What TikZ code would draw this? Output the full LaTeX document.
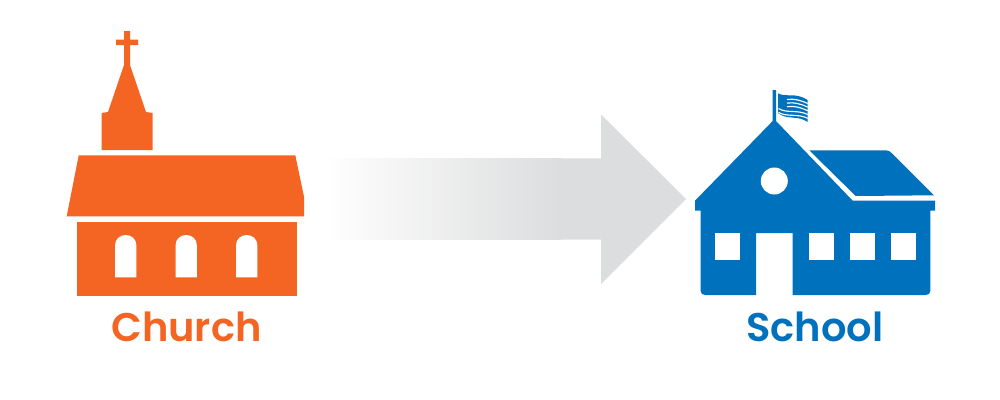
\documentclass[tikz,border=0pt]{standalone}
\usepackage{fontspec}
\setmainfont{Poppins}[UprightFont=* SemiBold]
\definecolor{churchorange}{HTML}{F46524}
\definecolor{schoolblue}{HTML}{0071BC}
\definecolor{arrowgray}{HTML}{DCDDDE}
\tikzset{
  churchshape/.style={fill=churchorange},
  schoolshape/.style={fill=schoolblue},
  hole/.style={fill=white},
  flagstripe/.style={draw=white,line width=0.85pt},
  caption/.style={anchor=base,inner sep=0pt,font=\fontsize{30}{32}\selectfont}
}
\begin{document}
\begin{tikzpicture}[x=0.75pt,y=0.75pt,yscale=-1,xscale=1]
\useasboundingbox (0,0) rectangle (1000,400);
% arrow
\fill [left color=arrowgray!3,right color=arrowgray] (330,158.3) rectangle (561,239.7);
\fill [arrowgray] (560,158.3) -- (601,158.3) -- (601,114.5) -- (686,199) -- (601,284) -- (601,239.7) -- (560,239.7) -- cycle;
% church
\fill [churchshape] (124,31) -- (130,31) -- (130,39.5) -- (138,39.5) -- (138,45) -- (130,45) -- (130,65) -- (146,112) -- (152.7,113) -- (152.7,150) -- (101.5,150) -- (101.5,113) -- (108,112) -- (124,65) -- (124,45) -- (116,45) -- (116,39.5) -- (124,39.5) -- cycle;
\fill [churchshape] (78.7,155.3) -- (295.3,155.3) -- (304,196.7) -- (304,216.3) -- (66.7,216.3) -- cycle;
\fill [churchshape] (77,222.3) rectangle (297,296);
\foreach \wx in {115,175.5,236} {
  \fill [hole] (\wx,277.3) -- (\wx,245.5) .. controls (\wx,239) and (\wx+5,235) .. (\wx+10.7,235) .. controls (\wx+16.4,235) and (\wx+21.4,239) .. (\wx+21.4,245.5) -- (\wx+21.4,277.3) -- cycle;
}
% school
\fill [schoolshape] (772.7,90) -- (776,90) -- (776,121) -- (852.7,200.7) -- (935,200.7) -- (935,210.7) -- (930.3,210.7) -- (930.3,291) .. controls (930.3,293.5) and (928.5,295) .. (926,295) -- (792.7,295) -- (792.7,233) -- (756,233) -- (756,295) -- (705,295) .. controls (702.5,295) and (700.7,293.5) .. (700.7,291) -- (700.7,210.7) -- (695,210.7) -- (695,200.7) -- (772.7,121) -- cycle;
\fill [schoolshape] (809.3,150.3) -- (886,150.3) .. controls (888.5,150.3) and (890,151.5) .. (891.7,153.2) -- (934,195.3) -- (855.7,196) -- cycle;
\fill [hole] (774.3,181) circle (13.5);
\foreach \wx in {715,809,850,891} {
  \fill [hole] (\wx,233) rectangle (\wx+24.8,260.3);
}
% flag
\fill [schoolshape] (778,93.3) .. controls (785,97) and (792,94) .. (798,96) .. controls (802,97) and (805,98) .. (807.7,100) -- (807.7,122) .. controls (800,117) and (793,118) .. (787,117) .. controls (783,116) and (780,115) .. (778,113) -- cycle;
\foreach \fy in {0,3.6,7.2} {
  \draw [flagstripe] (787,99.5+\fy) .. controls (794,98.5+\fy) and (800,100+\fy) .. (807.7,103.5+\fy);
}
\foreach \fy in {0,3.8} {
  \draw [flagstripe] (778.5,108.5+\fy) .. controls (786,113.5+\fy) and (798,109.5+\fy) .. (807.7,114.5+\fy);
}
% labels
\node [caption,text=churchorange] (churchlabel) at (186.5,341) {Church};
\node [caption,text=schoolblue] (schoollabel) at (815,341) {School};
\end{tikzpicture}
\end{document}
